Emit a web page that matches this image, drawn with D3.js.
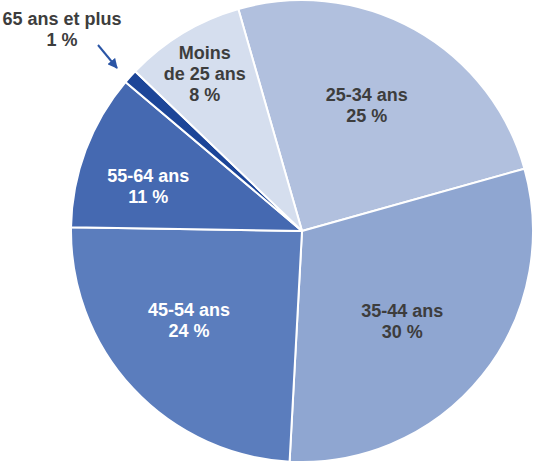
<!DOCTYPE html>
<html>
<head>
<meta charset="utf-8">
<script src="https://cdn.jsdelivr.net/npm/d3@7"></script>
<style>
  body { margin: 0; background: #fff; }
  svg { display: block; }
  text { font-family: "Liberation Sans", Arial, sans-serif; font-weight: bold; font-size: 18px; }
</style>
</head>
<body>
<div id="chart"></div>
<script>
//Data (share of each age group, %)
const categories = ['25-34 ans', '35-44 ans', '45-54 ans', '55-64 ans', '65 ans et plus', 'Moins de 25 ans'];
const values = [25.1, 30.2, 24.4, 10.9, 1.0, 8.4];
const labelLines = [['25-34 ans'], ['35-44 ans'], ['45-54 ans'], ['55-64 ans'], ['65 ans et plus'], ['Moins', 'de 25 ans']];

//Styles / layout
const colors = ['#b1c0de', '#8fa6d1', '#5b7dbd', '#4569b1', '#1c4598', '#d5deee'];
const textColors = ['#3d3d3d', '#3d3d3d', '#ffffff', '#ffffff', '#3d3d3d', '#3d3d3d'];
const labelRadius = [141, 135, 144, 160, 0, 185];
const labelAngleShift = [-1.8, 3.3, 4.7, -4.5, 0, -0.6];

const w = 539, h = 462;
const cx = 302, cy = 231, r = 231;
const deg = Math.PI / 180;

const svg = d3.select('#chart').append('svg').attr('width', w).attr('height', h);

const data = categories.map((c, i) => ({cat: c, value: values[i], i}));

const pie = d3.pie()
	.value(d => d.value)
	.sort(null)
	.startAngle(-16 * deg)
	.endAngle(344 * deg);

const arc = d3.arc().innerRadius(0).outerRadius(r);
const arcs = pie(data);

const g = svg.append('g').attr('transform', `translate(${cx},${cy})`);

g.selectAll('.slice')
	.data(arcs)
	.enter()
	.append('path').attr('class', 'slice')
	.attr('d', arc)
	.style('fill', d => colors[d.data.i])
	.style('stroke', '#fff')
	.style('stroke-width', '2px')
	.style('stroke-linejoin', 'round');

const lineH = 21;

//labels inside slices
arcs.forEach(d => {
	const i = d.data.i;
	const lines = labelLines[i].concat([Math.round(d.data.value) + ' %']);
	let x, y;
	if(i === 4){
		//small slice: label outside with an arrow
		x = 62 - cx; y = 29 - cy;
	}else{
		const a = (d.startAngle + d.endAngle) / 2 + labelAngleShift[i] * deg;
		x = Math.sin(a) * labelRadius[i];
		y = -Math.cos(a) * labelRadius[i];
	}
	const t = g.append('text')
		.attr('text-anchor', 'middle')
		.style('fill', textColors[i]);
	lines.forEach((l, k) => {
		t.append('tspan')
			.attr('x', x)
			.attr('y', y + (k - (lines.length - 1) / 2) * lineH)
			.attr('dominant-baseline', 'central')
			.text(l);
	});
});

//arrow pointing to the 65+ slice
svg.append('defs').append('marker')
	.attr('id', 'head')
	.attr('viewBox', '0 0 10 10')
	.attr('refX', 9).attr('refY', 5)
	.attr('markerWidth', 5).attr('markerHeight', 5)
	.attr('orient', 'auto')
	.append('path').attr('d', 'M0,0L10,5L0,10z')
	.style('fill', '#2a55a5');

svg.append('line')
	.attr('x1', 98).attr('y1', 45)
	.attr('x2', 117).attr('y2', 68)
	.style('stroke', '#2a55a5')
	.style('stroke-width', '2px')
	.attr('marker-end', 'url(#head)');
</script>
</body>
</html>
